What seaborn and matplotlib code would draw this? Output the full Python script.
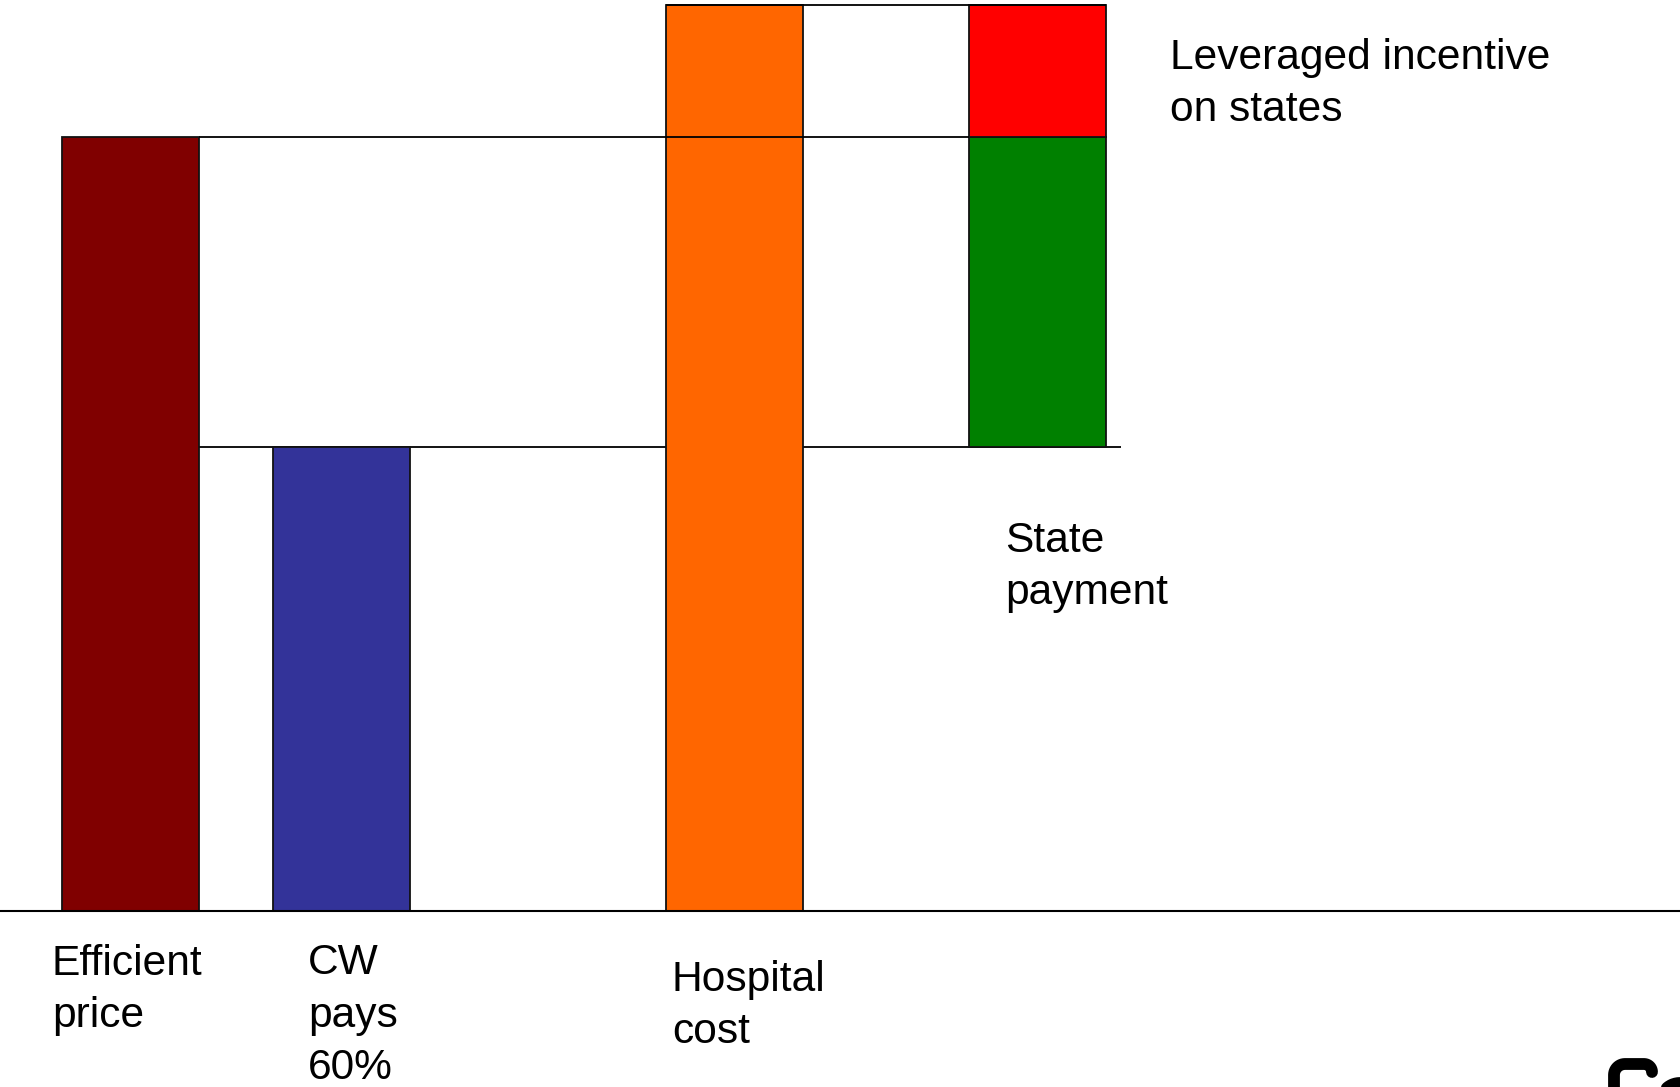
import numpy as np
import matplotlib
matplotlib.use("Agg")
import matplotlib.pyplot as plt
from matplotlib.lines import Line2D
import seaborn as sns

# Funding amounts, expressed relative to the efficient price (= 100)
bar_labels = ["Efficient\nprice", "CW\npays\n60%", "Hospital\ncost"]
bar_values = [100, 60, 117]
stack_labels = ["State\npayment", "Leveraged incentive\non states"]
stack_values = [40, 17]                       # state payment, leveraged incentive
stack_bottoms = [60, 100]                     # each segment sits on the one below

# Layout (pixel-like units on a 1681 x 1087 canvas)
W, H, DPI = 1681, 1087, 100
BASE_PX = 911                                 # baseline, pixels from top
PX_PER_UNIT = 7.74
bar_centres = [130.5, 341.5, 735.0]
stack_centre = 1037.5
BAR_W = 137
bar_colours = ["#800000", "#333399", "#FF6600"]
stack_colours = ["#008000", "#FF0000"]
EDGE = "#111111"
LW = 1.3

sns.set_theme(style="white")
plt.rcParams["font.family"] = ["Liberation Sans", "DejaVu Sans"]

fig = plt.figure(figsize=(W / DPI, H / DPI), dpi=DPI)
fig.patch.set_facecolor("white")
ax = fig.add_axes([0, 0, 1, 1])

# Main bars
for value, pos, colour in zip(bar_values, bar_centres, bar_colours):
    sns.barplot(x=[pos], y=[value], native_scale=True, orient="x", width=BAR_W,
                color=colour, saturation=1, errorbar=None, edgecolor=EDGE,
                linewidth=LW, zorder=2, ax=ax)

# Stacked state payment / leveraged incentive
for value, bottom, colour in zip(stack_values, stack_bottoms, stack_colours):
    sns.barplot(x=[stack_centre], y=[value], bottom=bottom, native_scale=True,
                orient="x", width=BAR_W, color=colour, saturation=1,
                errorbar=None, edgecolor=EDGE, linewidth=LW, zorder=2, ax=ax)

eff_right = bar_centres[0] + BAR_W / 2
hosp_left = bar_centres[2] - BAR_W / 2
state_left = stack_centre - BAR_W / 2
state_right = stack_centre + BAR_W / 2

# Guide lines linking the levels
ax.hlines(bar_values[1], eff_right, state_right + 15, color="black", lw=LW, zorder=1)
ax.hlines(bar_values[0], eff_right, state_left, color="black", lw=LW, zorder=3)
ax.hlines(bar_values[2], hosp_left, state_right, color="black", lw=LW, zorder=3)
ax.axhline(0, color="black", lw=1.5, zorder=3)

ax.set_xlim(0, W)
ax.set_ylim(-(H - BASE_PX) / PX_PER_UNIT, BASE_PX / PX_PER_UNIT)
ax.set_axis_off()


def px(x, y):
    return x / W, 1 - y / H


# y is the baseline of each label's last line
text_kw = dict(fontsize=30.6, ha="left", va="baseline", linespacing=1.40,
               color="black", transform=fig.transFigure)
fig.text(*px(52, 1027), bar_labels[0], **text_kw)
fig.text(*px(308, 1079), bar_labels[1], **text_kw)
fig.text(*px(672, 1043), bar_labels[2], **text_kw)
fig.text(*px(1005, 604), stack_labels[0], **text_kw)
fig.text(*px(1170, 121), stack_labels[1], **text_kw)

# Corner logo fragment
t = np.linspace(np.pi, np.pi / 2, 12)
arc1 = [(1625 + 11 * np.cos(a), 1075 - 11 * np.sin(a)) for a in t]
t2 = np.linspace(np.pi / 2, 0, 10)
arc2 = [(1644 + 8 * np.cos(a), 1072 - 8 * np.sin(a)) for a in t2]
pts = [(1614, 1095)] + arc1 + arc2
xs, ys = zip(*[px(x, y) for x, y in pts])
fig.add_artist(Line2D(xs, ys, color="black", lw=8.5, solid_capstyle="round",
                      solid_joinstyle="round", transform=fig.transFigure))
t3 = np.linspace(np.pi * 0.85, np.pi * 0.5, 10)
arc3 = [(1680 + 20 * np.cos(a), 1103 - 20 * np.sin(a)) for a in t3]
xs, ys = zip(*[px(x, y) for x, y in arc3])
fig.add_artist(Line2D(xs, ys, color="black", lw=8.5, solid_capstyle="round",
                      transform=fig.transFigure))

fig.savefig("out.png", dpi=DPI, facecolor="white")
